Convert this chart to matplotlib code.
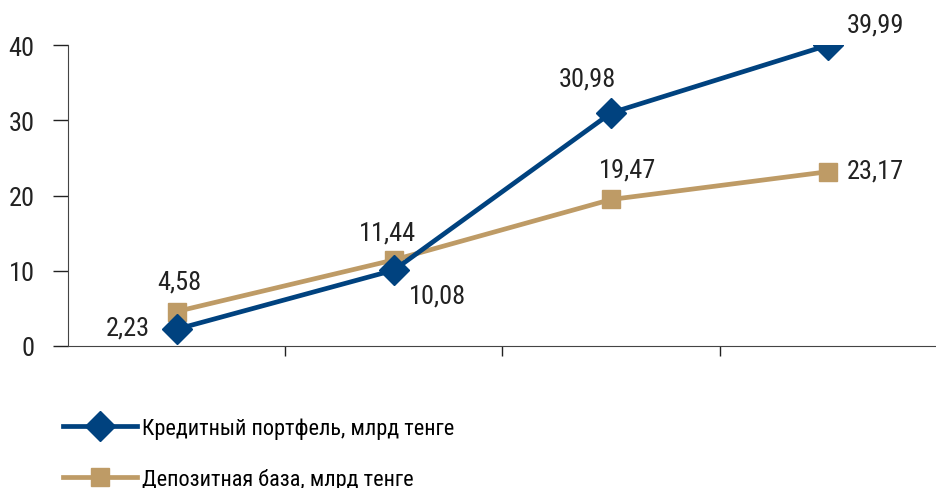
import matplotlib
matplotlib.use('Agg')
import matplotlib.pyplot as plt

# Данные
periods = [0, 1, 2, 3]
credit = [2.23, 10.08, 30.98, 39.99]
deposit = [4.58, 11.44, 19.47, 23.17]
credit_label = 'Кредитный портфель, млрд тенге'
deposit_label = 'Депозитная база, млрд тенге'
credit_text = ['2,23', '10,08', '30,98', '39,99']
deposit_text = ['4,58', '11,44', '19,47', '23,17']
yticks = [0, 10, 20, 30, 40]

navy = '#00427f'
tan = '#be9b66'

plt.rcParams['font.family'] = ['Roboto Condensed', 'DejaVu Sans']
plt.rcParams['font.stretch'] = 'condensed'

fig = plt.figure(figsize=(9.37, 4.89), dpi=100)
ax = fig.add_axes([68 / 937, 1 - 347 / 489, 1 - 68 / 937, (347 - 46) / 489])

l1, = ax.plot(periods, credit, color=navy, lw=3.4, marker='D', ms=15, zorder=4,
              label=credit_label)
l2, = ax.plot(periods, deposit, color=tan, lw=3.4, marker='s', ms=12.5, zorder=3,
              label=deposit_label)

# Подписи значений (сдвиг в пикселях)
credit_off = [(-49, 2), (44, -25), (-24, 34), (47, 21)]
deposit_off = [(3, 30), (-6, 27), (16, 30), (47, 1)]
for x, y, t, o in zip(periods, credit, credit_text, credit_off):
    ax.annotate(t, (x, y), xytext=o, textcoords='offset pixels',
                ha='center', va='center', fontsize=19, color='#222222')
for x, y, t, o in zip(periods, deposit, deposit_text, deposit_off):
    ax.annotate(t, (x, y), xytext=o, textcoords='offset pixels',
                ha='center', va='center', fontsize=19, color='#222222')

ax.set_xlim(-0.5, 3.5)
ax.set_ylim(0, 40)
ax.set_yticks(yticks)
ax.set_xticks([0.5, 1.5, 2.5])
ax.set_xticklabels([])
ax.tick_params(axis='y', labelsize=19, length=11, width=1, colors='#222222', pad=13)
ax.tick_params(axis='x', length=7, width=1, direction='out', colors='#222222')
for s in ['top', 'right']:
    ax.spines[s].set_visible(False)
ax.spines['left'].set_color('#444444')
ax.spines['bottom'].set_color('#444444')

fig.legend(handles=[l1, l2], loc='upper left', bbox_to_anchor=(0.058, 0.163),
           frameon=False, fontsize=16, handlelength=3.3, labelspacing=1.3,
           handletextpad=0.25, borderaxespad=0)

fig.savefig('out.png', dpi=100)
